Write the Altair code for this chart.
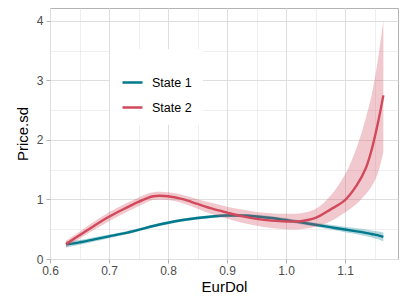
import altair as alt
import pandas as pd

# ---- data ----
x_grid = [0.627, 0.65, 0.675, 0.70, 0.725, 0.75, 0.775, 0.80, 0.825, 0.85,
          0.875, 0.90, 0.925, 0.95, 0.975, 1.00, 1.025, 1.05, 1.075, 1.10,
          1.12, 1.135, 1.145, 1.155, 1.165]

state1_fit = [0.245, 0.28, 0.33, 0.38, 0.43, 0.49, 0.555, 0.61, 0.655, 0.69,
              0.715, 0.73, 0.73, 0.715, 0.69, 0.655, 0.615, 0.575, 0.535, 0.495,
              0.465, 0.44, 0.42, 0.40, 0.37]
state1_lo = [0.195, 0.24, 0.295, 0.35, 0.403, 0.465, 0.53, 0.585, 0.63, 0.665,
             0.69, 0.703, 0.703, 0.687, 0.662, 0.625, 0.583, 0.54, 0.495, 0.45,
             0.415, 0.385, 0.36, 0.335, 0.295]
state1_hi = [0.295, 0.32, 0.365, 0.41, 0.457, 0.515, 0.58, 0.635, 0.68, 0.715,
             0.74, 0.757, 0.757, 0.743, 0.718, 0.685, 0.647, 0.61, 0.575, 0.54,
             0.515, 0.495, 0.48, 0.465, 0.445]

state2_fit = [0.25, 0.40, 0.56, 0.71, 0.84, 0.96, 1.055, 1.055, 1.005, 0.925,
              0.845, 0.78, 0.72, 0.675, 0.645, 0.63, 0.635, 0.69, 0.83, 0.99,
              1.24, 1.52, 1.83, 2.25, 2.75]
state2_lo = [0.19, 0.34, 0.49, 0.635, 0.765, 0.885, 0.99, 0.99, 0.935, 0.845,
             0.75, 0.68, 0.61, 0.56, 0.52, 0.50, 0.50, 0.54, 0.63, 0.78,
             0.93, 1.09, 1.22, 1.42, 1.80]
state2_hi = [0.31, 0.46, 0.63, 0.785, 0.915, 1.035, 1.12, 1.12, 1.075, 1.005,
             0.94, 0.88, 0.83, 0.79, 0.77, 0.76, 0.77, 0.84, 1.06, 1.42,
             1.88, 2.36, 2.75, 3.30, 4.01]

states = ["State 1", "State 2"]
colors = ["#00798c", "#d1495b"]

x_ticks = [0.6, 0.65, 0.7, 0.75, 0.8, 0.85, 0.9, 0.95, 1.0, 1.05, 1.1, 1.15]
y_ticks = [0, 0.5, 1, 1.5, 2, 2.5, 3, 3.5, 4]

rows = []
for st, fit, lo, hi in [(states[0], state1_fit, state1_lo, state1_hi),
                        (states[1], state2_fit, state2_lo, state2_hi)]:
    for xv, f, l, h in zip(x_grid, fit, lo, hi):
        rows.append({"EurDol": xv, "fit": f, "lo": l, "hi": h, "state": st})
df = pd.DataFrame(rows)

FONT = "Liberation Sans"
x_major = "abs(datum.value*10 - round(datum.value*10)) < 0.001"
y_major = "abs(datum.value - round(datum.value)) < 0.001"

x_axis = alt.Axis(
    values=x_ticks, title="EurDol", domain=False,
    labelExpr=f"{x_major} ? format(datum.value, '.1f') : ''",
    labelFlush=False, labelOverlap=False,
    gridColor="#DEDEDE",
    gridWidth={"condition": {"test": x_major, "value": 1.0}, "value": 0.5},
    tickOpacity={"condition": {"test": x_major, "value": 1}, "value": 0},
    tickColor="#B3B3B3", tickSize=4, tickWidth=1,
    labelFont=FONT, labelFontSize=12, labelColor="#4D4D4D", labelPadding=2,
    titleFont=FONT, titleFontSize=15, titleFontWeight="normal", titleColor="black",
    titlePadding=3,
)
y_axis = alt.Axis(
    values=y_ticks, title="Price.sd", domain=False,
    labelExpr=f"{y_major} ? format(datum.value, 'd') : ''",
    labelFlush=False, labelOverlap=False,
    gridColor="#DEDEDE",
    gridWidth={"condition": {"test": y_major, "value": 1.0}, "value": 0.5},
    tickOpacity={"condition": {"test": y_major, "value": 1}, "value": 0},
    tickColor="#B3B3B3", tickSize=4, tickWidth=1,
    labelFont=FONT, labelFontSize=12, labelColor="#4D4D4D", labelPadding=3,
    titleFont=FONT, titleFontSize=15, titleFontWeight="normal", titleColor="black",
    titlePadding=6,
)

xs = alt.Scale(domain=[0.6, 1.1898], nice=False, zero=False)
ys = alt.Scale(domain=[0, 4.218], nice=False, zero=False)

base = alt.Chart(df)

def band(st, col):
    return base.transform_filter(alt.datum.state == st).mark_area(
        opacity=0.3, color=col, interpolate="catmull-rom"
    ).encode(
        x=alt.X("EurDol:Q", scale=xs, axis=x_axis),
        y=alt.Y("lo:Q", scale=ys, axis=y_axis),
        y2="hi:Q",
    )

def line(st):
    return base.transform_filter(alt.datum.state == st).mark_line(
        strokeWidth=2.4, interpolate="catmull-rom"
    ).encode(
        x=alt.X("EurDol:Q", scale=xs, axis=x_axis),
        y=alt.Y("fit:Q", scale=ys, axis=y_axis),
        color=alt.Color(
            "state:N",
            scale=alt.Scale(domain=states, range=colors),
            legend=alt.Legend(
                title=" ", orient="none", legendX=60, legendY=41,
                fillColor="white", padding=11,
                titleFontSize=10, titlePadding=1,
                symbolType="stroke", symbolSize=400, symbolStrokeWidth=2.5,
                labelFont=FONT, labelFontSize=12.5, labelColor="black",
                labelOffset=8, rowPadding=7,
            ),
        ),
    )

chart = alt.layer(
    band(states[0], colors[0]),
    line(states[0]),
    band(states[1], colors[1]),
    line(states[1]),
).properties(
    width=348, height=251,
    autosize=alt.AutoSizeParams(type="none"),
    padding={"left": 42, "top": 0, "right": 1, "bottom": 45},
    background="white",
).configure_view(
    stroke="#B3B3B3", strokeWidth=1,
)

chart.save("out.html", embed_options={"renderer": "svg", "actions": False})
